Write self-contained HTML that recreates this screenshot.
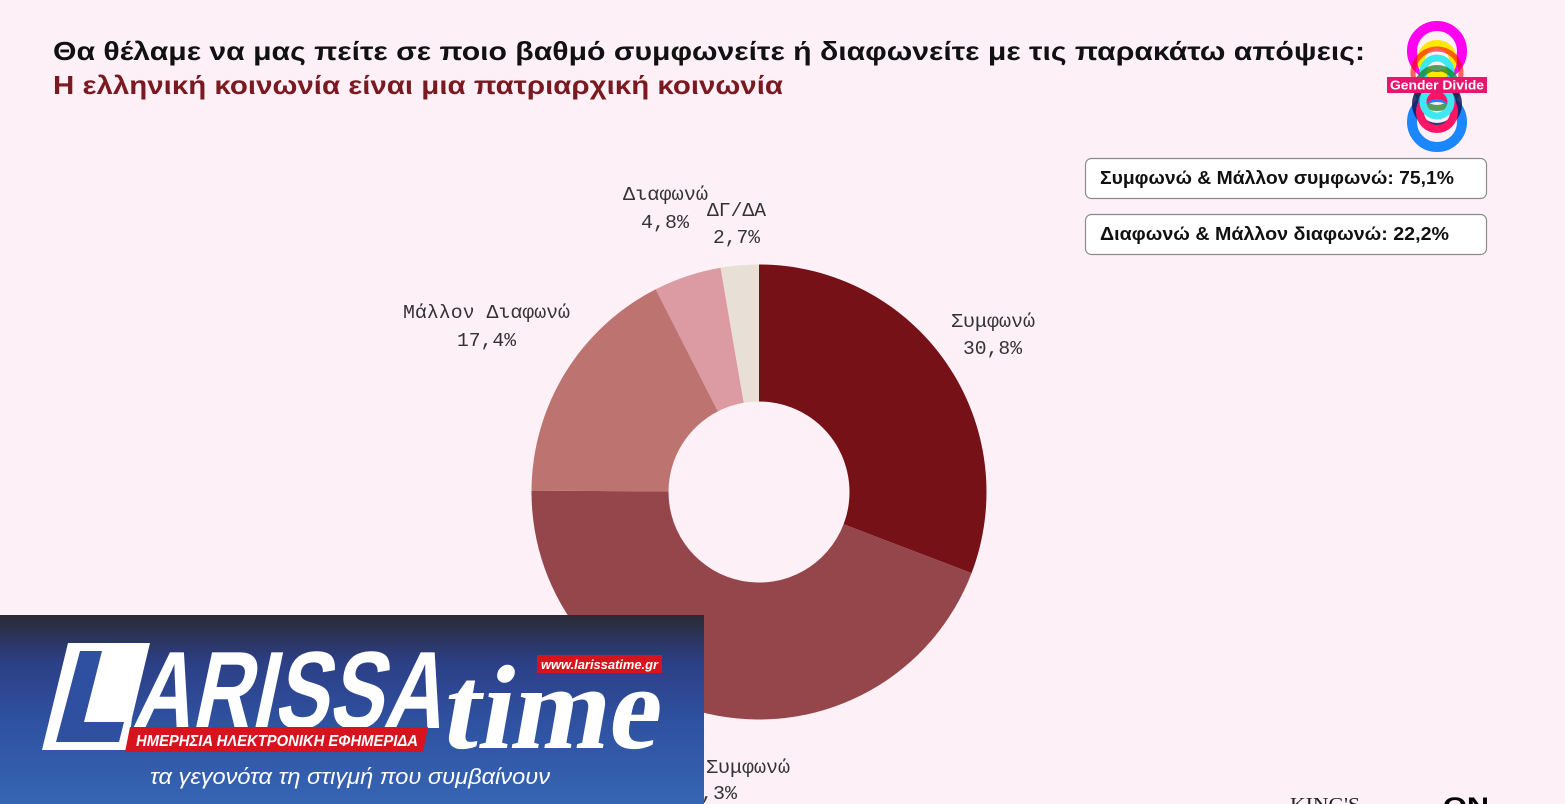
<!DOCTYPE html>
<html>
<head>
<meta charset="utf-8">
<style>
  html, body { margin: 0; padding: 0; width: 1565px; height: 804px; overflow: hidden; background: #fdf0f7; }
  svg { display: block; }
</style>
</head>
<body>
<svg width="1565" height="804" viewBox="0 0 1565 804" xmlns="http://www.w3.org/2000/svg">
  <defs>
    <linearGradient id="ov" x1="0" y1="0" x2="0" y2="1">
      <stop offset="0" stop-color="#2a2a34"/>
      <stop offset="0.25" stop-color="#2c3f86"/>
      <stop offset="0.6" stop-color="#2f53a3"/>
      <stop offset="1" stop-color="#3665b3"/>
    </linearGradient>
  </defs>
  <rect x="0" y="0" width="1565" height="804" fill="#fdf0f7"/>

  <!-- Title -->
  <text x="53" y="60" font-family="Liberation Sans, sans-serif" font-weight="bold" font-size="26" fill="#111" textLength="1312" lengthAdjust="spacingAndGlyphs">Θα θέλαμε να μας πείτε σε ποιο βαθμό συμφωνείτε ή διαφωνείτε με τις παρακάτω απόψεις:</text>
  <text x="53" y="94" font-family="Liberation Sans, sans-serif" font-weight="bold" font-size="26" fill="#7a1a20" textLength="730" lengthAdjust="spacingAndGlyphs">Η ελληνική κοινωνία είναι μια πατριαρχική κοινωνία</text>

  <!-- Gender Divide logo -->
  <g fill="none">
    <circle cx="1437" cy="51" r="25" stroke="#ff00f0" stroke-width="10"/>
    <circle cx="1437" cy="60" r="16" stroke="#ffe800" stroke-width="8"/>
    <circle cx="1437" cy="73" r="24" stroke="#ff0000" stroke-width="5" opacity="0.6"/>
    <circle cx="1437" cy="72" r="14" stroke="#3fe8f0" stroke-width="7"/>
    <circle cx="1437" cy="88" r="20" stroke="#0b7a1a" stroke-width="6" opacity="0.7"/>
    <circle cx="1437" cy="122" r="25" stroke="#1a86ff" stroke-width="10"/>
    <circle cx="1437" cy="104" r="22" stroke="#101a5a" stroke-width="6" opacity="0.85"/>
    <circle cx="1437" cy="112" r="17" stroke="#ff1466" stroke-width="8"/>
    <circle cx="1437" cy="102" r="14" stroke="#3fe8f0" stroke-width="7"/>
  </g>
  <rect x="1387" y="77" width="100" height="16" fill="#e8176d"/>
  <text x="1437" y="89.5" text-anchor="middle" font-family="Liberation Sans, sans-serif" font-weight="bold" font-size="12.5" fill="#fff" textLength="94" lengthAdjust="spacingAndGlyphs">Gender Divide</text>

  <!-- Summary boxes -->
  <rect x="1085.5" y="158.5" width="401" height="40" rx="6" ry="6" fill="#ffffff" stroke="#8a8a8a" stroke-width="1.2"/>
  <text x="1100" y="184" font-family="Liberation Sans, sans-serif" font-weight="bold" font-size="18" fill="#111" textLength="354" lengthAdjust="spacingAndGlyphs">Συμφωνώ &amp; Μάλλον συμφωνώ: 75,1%</text>
  <rect x="1085.5" y="214.5" width="401" height="40" rx="6" ry="6" fill="#ffffff" stroke="#8a8a8a" stroke-width="1.2"/>
  <text x="1100" y="240" font-family="Liberation Sans, sans-serif" font-weight="bold" font-size="18" fill="#111" textLength="349" lengthAdjust="spacingAndGlyphs">Διαφωνώ &amp; Μάλλον διαφωνώ: 22,2%</text>

  <!-- Donut -->
  <g>
    <path d="M759,264.5 A227.5,227.5 0 0 1 971.56,573.08 L843.56,524.26 A90.5,90.5 0 0 0 759,401.5 Z" fill="#761217"/>
    <path d="M971.56,573.08 A227.5,227.5 0 0 1 531.5,490.57 L668.5,491.43 A90.5,90.5 0 0 0 843.56,524.26 Z" fill="#95464b"/>
    <path d="M531.5,490.57 A227.5,227.5 0 0 1 655.72,289.30 L717.91,411.36 A90.5,90.5 0 0 0 668.5,491.43 Z" fill="#bd736f"/>
    <path d="M655.72,289.30 A227.5,227.5 0 0 1 720.59,267.77 L743.72,402.80 A90.5,90.5 0 0 0 717.91,411.36 Z" fill="#dc9ba3"/>
    <path d="M720.59,267.77 A227.5,227.5 0 0 1 759,264.5 L759,401.5 A90.5,90.5 0 0 0 743.72,402.80 Z" fill="#e8dfd6"/>
  </g>

  <!-- Donut labels -->
  <g font-family="Liberation Mono, monospace" font-size="19" fill="#333">
    <text x="951" y="327" textLength="84" lengthAdjust="spacingAndGlyphs">Συμφωνώ</text>
    <text x="963" y="354" textLength="59" lengthAdjust="spacingAndGlyphs">30,8%</text>
    <text x="403" y="318" textLength="167" lengthAdjust="spacingAndGlyphs">Μάλλον Διαφωνώ</text>
    <text x="457" y="346" textLength="59" lengthAdjust="spacingAndGlyphs">17,4%</text>
    <text x="623" y="200" textLength="85" lengthAdjust="spacingAndGlyphs">Διαφωνώ</text>
    <text x="641" y="228" textLength="48" lengthAdjust="spacingAndGlyphs">4,8%</text>
    <text x="707" y="216" textLength="59" lengthAdjust="spacingAndGlyphs">ΔΓ/ΔΑ</text>
    <text x="713" y="243" textLength="47" lengthAdjust="spacingAndGlyphs">2,7%</text>
    <text x="622" y="773" textLength="168" lengthAdjust="spacingAndGlyphs">Μάλλον Συμφωνώ</text>
    <text x="677" y="799" textLength="60" lengthAdjust="spacingAndGlyphs">44,3%</text>
  </g>

  <!-- bottom-right logos (partially visible) -->
  <text x="1290" y="811" font-family="Liberation Serif, serif" font-size="20" fill="#222" textLength="70" lengthAdjust="spacingAndGlyphs">KING'S</text>
  <text x="1443" y="814" font-family="Liberation Sans, sans-serif" font-weight="bold" font-size="24" fill="#000" textLength="46" lengthAdjust="spacingAndGlyphs">ON</text>

  <!-- small bits peeking below overlay -->
  <rect x="73" y="801" width="22" height="3" fill="#1f2a55"/>
  <rect x="95" y="801" width="14" height="3" fill="#d07a8a"/>

  <!-- Overlay banner -->
  <rect x="0" y="615" width="704" height="189" fill="url(#ov)"/>
  <!-- L box -->
  <polygon points="68,643 150,643 132,718 128,750 42,750" fill="#ffffff"/>
  <polygon points="80,651 102,651 84,722 124,722 119,742 56,742" fill="#2f4fa0"/>
  <!-- ARISSA -->
  <g transform="skewX(-12)">
    <text x="286" y="728" font-family="Liberation Sans, sans-serif" font-weight="bold" font-size="110" fill="#ffffff" textLength="310" lengthAdjust="spacingAndGlyphs">ARISSA</text>
  </g>
  <!-- time -->
  <g transform="skewX(-10)">
    <text x="570" y="748" font-family="Liberation Serif, serif" font-weight="bold" font-size="120" fill="#ffffff" textLength="218" lengthAdjust="spacingAndGlyphs">time</text>
  </g>
  <!-- url box -->
  <rect x="537" y="655" width="125" height="18" fill="#d7141e"/>
  <text x="541" y="669" font-family="Liberation Sans, sans-serif" font-weight="bold" font-style="italic" font-size="12.5" fill="#ffffff" textLength="117" lengthAdjust="spacingAndGlyphs">www.larissatime.gr</text>
  <!-- red band -->
  <polygon points="130,727 428,727 423,752 125,752" fill="#d7141e"/>
  <text x="136" y="746" font-family="Liberation Sans, sans-serif" font-weight="bold" font-style="italic" font-size="16" fill="#ffffff" textLength="282" lengthAdjust="spacingAndGlyphs">ΗΜΕΡΗΣΙΑ ΗΛΕΚΤΡΟΝΙΚΗ ΕΦΗΜΕΡΙΔΑ</text>
  <!-- tagline -->
  <text x="150" y="784" font-family="Liberation Sans, sans-serif" font-style="italic" font-size="22" fill="#ffffff" textLength="400" lengthAdjust="spacingAndGlyphs">τα γεγονότα τη στιγμή που συμβαίνουν</text>
</svg>
</body>
</html>
